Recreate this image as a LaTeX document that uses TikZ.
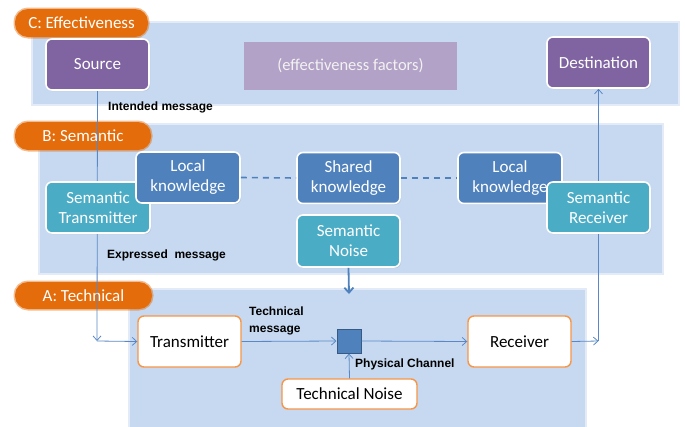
\documentclass[tikz,border=0pt]{standalone}
\usepackage{fontspec}
\setmainfont{Carlito}
\newfontfamily\labfont{Liberation Sans}
\usetikzlibrary{arrows.meta,shadows}
\definecolor{bandblue}{HTML}{C6D9F1}
\definecolor{pillorange}{HTML}{E46C0A}
\definecolor{purp}{HTML}{8064A2}
\definecolor{lpurp}{HTML}{B3A2C7}
\definecolor{teal}{HTML}{4BACC6}
\definecolor{kblue}{HTML}{4F81BD}
\definecolor{lineblue}{HTML}{5A88C6}
\definecolor{orborder}{HTML}{F79646}
\pgfdeclarelayer{bg}
\pgfdeclarelayer{lines}
\pgfsetlayers{bg,lines,main}
\tikzset{
  band/.style={fill=bandblue, draw=bandblue, draw opacity=0.5, line width=4pt},
  pill/.style={fill=pillorange, draw=pillorange, draw opacity=0.45, line width=3pt, rounded corners=13pt, text=white, inner sep=0pt, font=\fontsize{17}{20}\selectfont},
  box/.style={rounded corners=6pt, draw=white, line width=1.6pt, text=white, inner sep=0pt, align=center,
    font=\fontsize{17}{20}\selectfont, minimum width=103pt, minimum height=51pt,
    drop shadow={opacity=0.25, shadow xshift=1pt, shadow yshift=-1.2pt}},
  purpbox/.style={box, fill=purp},
  tealbox/.style={box, fill=teal},
  kbox/.style={box, fill=kblue},
  wbox/.style={rounded corners=6pt, draw=orborder, line width=1.4pt, fill=white, text=black, inner sep=0pt,
    font=\fontsize{17}{20}\selectfont, minimum width=103pt, minimum height=51pt},
  lab/.style={font=\labfont\bfseries\fontsize{12}{17}\selectfont, text=black, inner sep=0pt, anchor=west, align=left},
  conn/.style={draw=lineblue, line width=0.8pt},
  arr/.style={conn, -{Straight Barb[length=4.5pt,width=8pt]}},
  dashline/.style={draw=kblue, line width=1.6pt, dash pattern=on 6pt off 5pt},
}
\begin{document}
\begin{tikzpicture}[x=1pt,y=-1pt]
\useasboundingbox (0,0) rectangle (685,426);
\begin{pgfonlayer}{bg}
  \fill[white] (0,0) rectangle (685,426);
  \path[band] (33,23) rectangle (678,104);
  \path[band] (40,125) rectangle (662,273);
  \path[band] (130,290) rectangle (585,430);
  \node[pill, minimum width=133pt, minimum height=28pt] (pC) at (81.5,23) {C: Effectiveness};
  \node[pill, minimum width=136pt, minimum height=28pt] (pB) at (83,136) {B: Semantic};
  \node[pill, minimum width=137pt, minimum height=27pt] (pA) at (83.5,295.5) {A: Technical};
\end{pgfonlayer}

% C layer
\node[purpbox] (src) at (97.5,64.5) {Source};
\node[fill=lpurp, text=white!95!black, inner sep=0pt, minimum width=213pt, minimum height=48pt,
      font=\fontsize{16.5}{20}\selectfont] (eff) at (350.5,66) {(effectiveness factors)};
\node[purpbox] (dst) at (598.5,62.5) {Destination};

% B layer
\node[tealbox, minimum width=104pt] (stx) at (98,207.5) {Semantic\\Transmitter};
\node[kbox, minimum width=104pt] (lkl) at (188,177.5) {Local\\knowledge};
\node[kbox] (shk) at (348.5,178) {Shared\\knowledge};
\node[tealbox, minimum height=52pt] (sn) at (348.5,241) {Semantic\\Noise};
\node[kbox, minimum width=104pt] (lkr) at (510,178) {Local\\knowledge};
\node[tealbox] (srx) at (598.5,207.5) {Semantic\\Receiver};

% A layer
\node[wbox] (tx) at (189.5,341.5) {Transmitter};
\node[fill=kblue, draw=kblue!70!black, line width=1pt, minimum width=24pt, minimum height=24pt, inner sep=0pt] (sq) at (349,341) {};
\node[wbox] (rx) at (519.5,341.5) {Receiver};
\node[wbox, minimum width=135pt, minimum height=30pt] (tn) at (349.5,394) {Technical Noise};

\coordinate (jl) at (97,341);
\coordinate (jr) at (598.5,341);
\coordinate (snend) at (349,294);

\begin{pgfonlayer}{lines}
  \draw[arr] (src.south) -- (jl);
  \draw[arr] (jr) -- (dst.south);
\end{pgfonlayer}
\draw[arr] (jl) -- (tx.west);
\draw[arr] (tx.east) -- (sq.west);
\draw[arr] (sq.east) -- (rx.west);
\draw[arr] (rx.east) -- (jr);
\draw[arr] (tn.north) -- (sq.south);
\draw[draw=kblue, line width=1.8pt, -{Straight Barb[length=5pt,width=9pt]}] (sn.south) -- (snend);
\draw[dashline] (lkl.east) -- (shk.west);
\draw[dashline] (shk.east) -- (lkr.west);

% labels
\node[lab] (lint) at (108,107) {Intended message};
\node[lab] (lexp) at (107,255) {Expressed\ \ message};
\node[lab] (ltm) at (249,321) {Technical\\message};
\node[lab] (lpc) at (355,364) {Physical Channel};
\end{tikzpicture}
\end{document}
